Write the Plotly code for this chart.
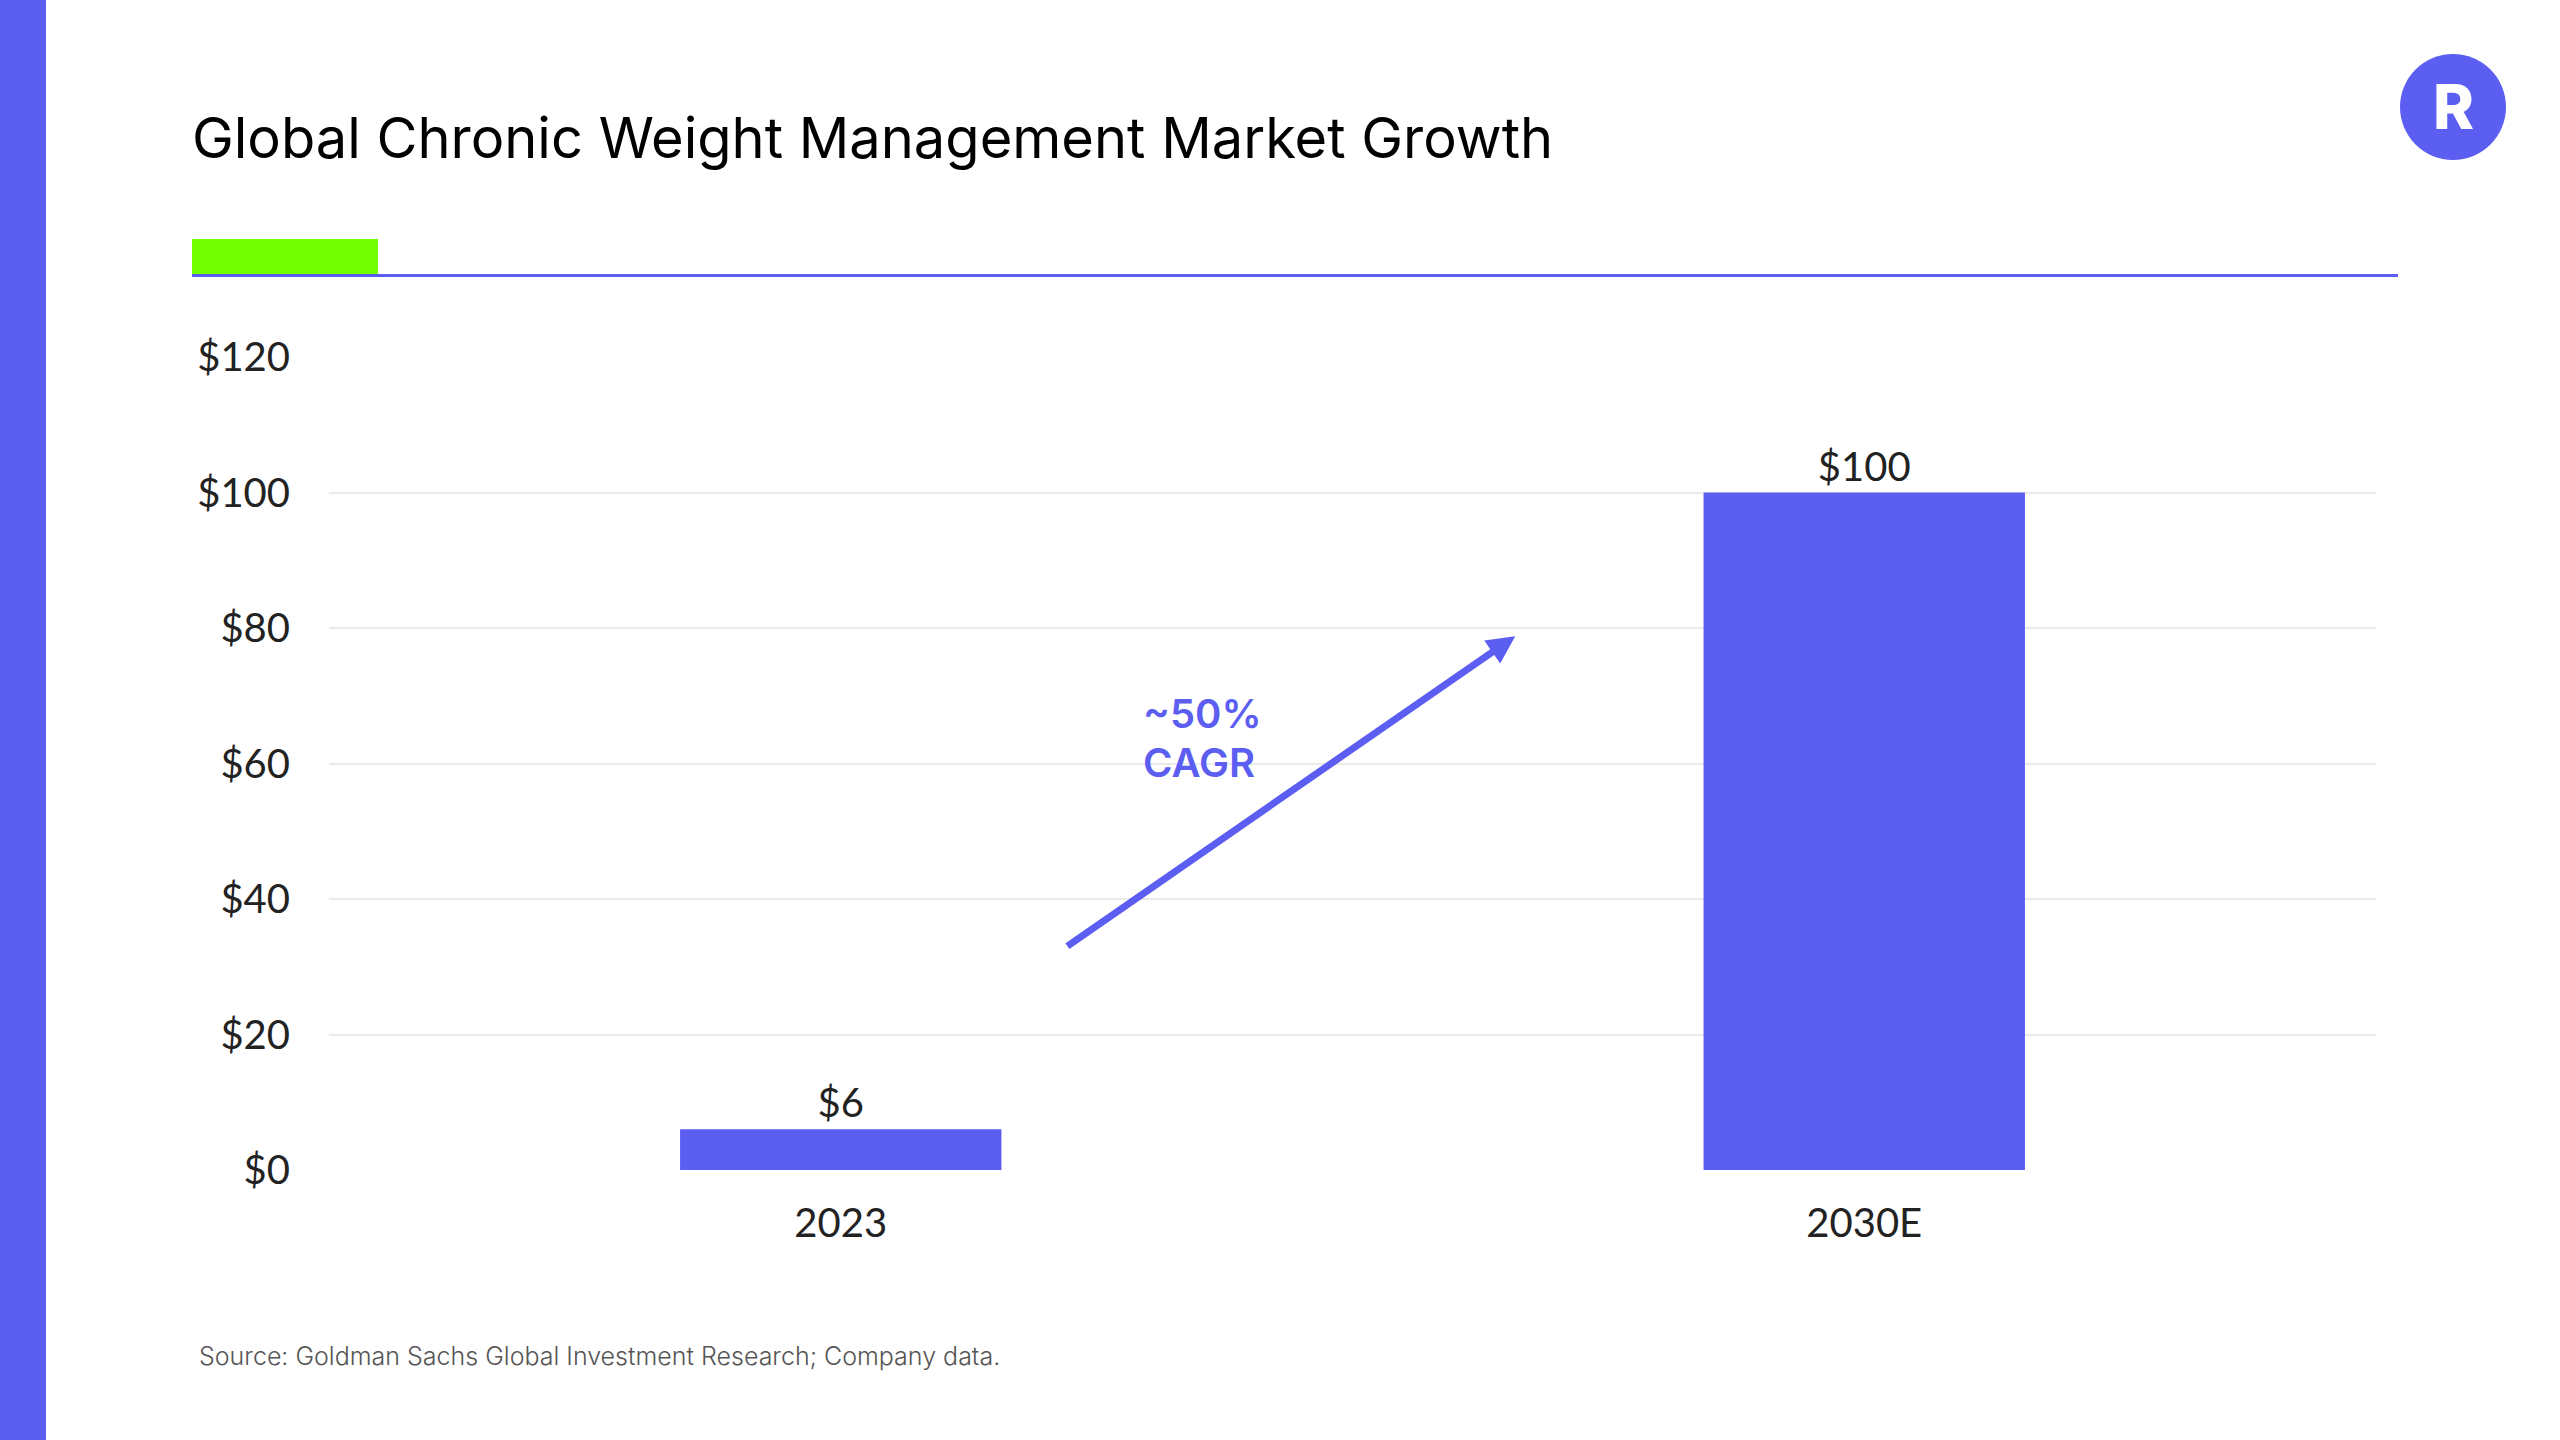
import plotly.graph_objects as go

# ---- data ----
categories = ["2023", "2030E"]
values = [6, 100]
value_labels = ["$6", "$100"]
y_ticks = [0, 20, 40, 60, 80, 100, 120]
y_tick_labels = ["$0", "$20", "$40", "$60", "$80", "$100", "$120"]
title_text = "Global Chronic Weight Management Market Growth"
source_text = "Source: Goldman Sachs Global Investment Research; Company data."
cagr_lines = ["~50%", "CAGR"]
cagr_line_y = [67.4, 60.2]
cagr_x = 0.293
arrow_start = (0.220, 32.9)   # (category position, value)
arrow_end = (0.659, 78.8)

PURPLE = "#5B5EF1"
GREEN = "#72FF00"
W, H = 2560, 1440
L, R, T, B = 329, 184, 357, 270
PW, PH = W - L - R, H - T - B


def px(x):
    return (x - L) / PW


def py(y):
    return (H - B - y) / PH


fig = go.Figure()
fig.add_trace(go.Bar(
    x=categories, y=values, text=value_labels,
    marker=dict(color=PURPLE, line=dict(width=0)),
    texttemplate="%{text}", textposition="outside",
    textfont=dict(family="Lato", size=40, color="#222222"),
    cliponaxis=False, hoverinfo="skip",
))

shapes = [
    dict(type="rect", xref="paper", yref="paper", x0=px(0), x1=px(46), y0=py(0), y1=py(H),
         fillcolor=PURPLE, line=dict(width=0), layer="above"),
    dict(type="rect", xref="paper", yref="paper", x0=px(192), x1=px(378), y0=py(274), y1=py(239),
         fillcolor=GREEN, line=dict(width=0)),
    dict(type="line", xref="paper", yref="paper", x0=px(192), x1=px(2398), y0=py(275.5), y1=py(275.5),
         line=dict(color=PURPLE, width=3)),
    dict(type="circle", xref="paper", yref="paper", x0=px(2453 - 53), x1=px(2453 + 53),
         y0=py(107 + 53), y1=py(107 - 53), fillcolor=PURPLE, line=dict(width=0)),
]

annotations = [
    dict(text=title_text, xref="paper", yref="paper", x=px(190), y=py(138),
         xanchor="left", yanchor="middle", showarrow=False,
         font=dict(family="Inter", size=56, color="#000000")),
    dict(text="R", xref="paper", yref="paper", x=px(2453), y=py(107),
         xanchor="center", yanchor="middle", showarrow=False,
         font=dict(family="Inter", size=62, color="#FFFFFF", weight=800)),
    dict(text=source_text, xref="paper", yref="paper", x=px(197), y=py(1356),
         xanchor="left", yanchor="middle", showarrow=False,
         font=dict(family="Inter", size=25, color="#555555", weight=300)),
    dict(x=arrow_end[0], y=arrow_end[1], ax=arrow_start[0], ay=arrow_start[1],
         xref="x", yref="y", axref="x", ayref="y", text="",
         showarrow=True, arrowhead=2, arrowsize=0.8, arrowwidth=7, arrowcolor=PURPLE,
         standoff=0, startstandoff=0),
]
for line, ly in zip(cagr_lines, cagr_line_y):
    annotations.append(dict(text=line, x=cagr_x, y=ly, xref="x", yref="y",
                            xanchor="left", yanchor="middle", align="left", showarrow=False,
                            font=dict(family="Inter", size=40, color=PURPLE, weight=600)))

fig.update_layout(
    width=W, height=H,
    margin=dict(l=L, r=R, t=T, b=B, pad=0),
    paper_bgcolor="#FFFFFF", plot_bgcolor="#FFFFFF",
    showlegend=False, bargap=0.686,
    shapes=shapes, annotations=annotations,
    xaxis=dict(type="category", showgrid=False, showline=False, ticks="",
               tickfont=dict(family="Lato", size=40, color="#222222"), ticklabelstandoff=26),
    yaxis=dict(range=[0, 120], tickvals=y_ticks, ticktext=y_tick_labels,
               showgrid=True, gridcolor="#EBEBEB", gridwidth=2, zeroline=False, showline=False,
               ticks="", ticklabelstandoff=38,
               tickfont=dict(family="Lato", size=40, color="#222222")),
)

fig.write_html("out.html", config={"displayModeBar": False},
               post_script="document.body.style.margin='0';")
